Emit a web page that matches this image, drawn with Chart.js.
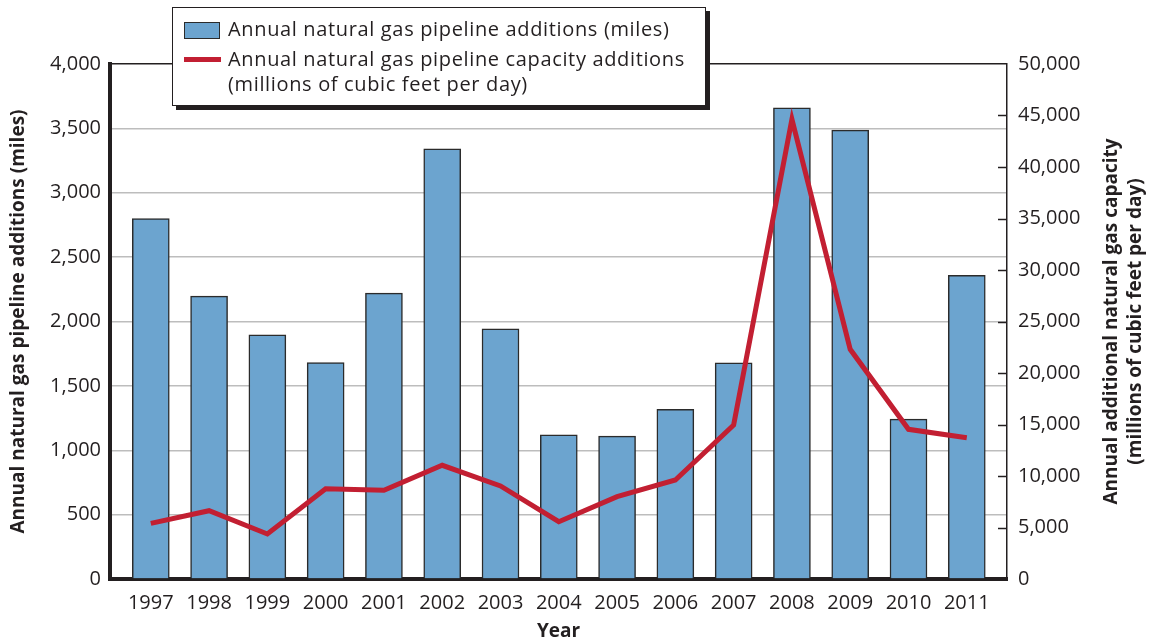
<!DOCTYPE html>
<html>
<head>
<meta charset="utf-8">
<script src="https://cdn.jsdelivr.net/npm/chart.js@4.4.1/dist/chart.umd.min.js"></script>
<style>
  body { margin: 0; background: #fff; }
  #wrap { position: relative; width: 1151px; height: 644px; font-family: "Open Sans", sans-serif; color: #231f20; }
  #legend {
    position: absolute; left: 172px; top: 7px; width: 532px; height: 97px;
    border: 1.5px solid #231f20; box-shadow: 4px 4px 0 #231f20; background: #fff;
    font-size: 20px; letter-spacing: 0.65px;
  }
  #legend .txt { position: absolute; left: 55px; line-height: 24px; white-space: nowrap; }
  #legend .box { position: absolute; left: 11px; top: 14px; width: 34px; height: 15px; background: #6ca4cf; border: 1.5px solid #2b2b2b; }
  #legend .ln { position: absolute; left: 11px; top: 49px; width: 37px; height: 5px; background: #c21f32; }
</style>
</head>
<body>
<div id="wrap">
  <canvas id="chart" width="1151" height="644"></canvas>
  <div id="legend">
    <div class="box"></div>
    <div class="txt" style="top:9px">Annual natural gas pipeline additions (miles)</div>
    <div class="ln"></div>
    <div class="txt" style="top:39px">Annual natural gas pipeline capacity additions</div>
    <div class="txt" style="top:64px">(millions of cubic feet per day)</div>
  </div>
</div>
<script>
const years = [1997, 1998, 1999, 2000, 2001, 2002, 2003, 2004, 2005, 2006, 2007, 2008, 2009, 2010, 2011];
const pipelineMiles = [2800, 2197, 1897, 1680, 2220, 3341, 1943, 1120, 1110, 1318, 1679, 3659, 3486, 1242, 2358];
const capacityAdded = [5400, 6630, 4370, 8770, 8610, 11040, 9030, 5560, 7990, 9610, 14950, 44630, 22300, 14530, 13720];

const leftTitle = 'Annual natural gas pipeline additions (miles)';
const rightTitle = ['Annual additional natural gas capacity', '(millions of cubic feet per day)'];
const xTitle = 'Year';

const ink = '#231f20';
const font = 'Open Sans';

Chart.defaults.font.family = font;
Chart.defaults.color = ink;

// axis titles and the inward ticks on the right axis
const decor = {
  id: 'decor',
  afterDatasetsDraw(chart) {
    const ctx = chart.ctx;
    const y2 = chart.scales.y2;
    const right = chart.chartArea.right;
    ctx.save();
    ctx.strokeStyle = ink;
    ctx.lineWidth = 1.5;
    y2.ticks.forEach(t => {
      if (t.value <= 0 || t.value >= 50000) return;
      const py = Math.round(y2.getPixelForValue(t.value)) + 0.5;
      ctx.beginPath();
      ctx.moveTo(right - 9, py);
      ctx.lineTo(right, py);
      ctx.stroke();
    });
    ctx.restore();
  },
  afterDraw(chart) {
    const ctx = chart.ctx;
    const area = chart.chartArea;
    const midY = (area.top + area.bottom) / 2;
    ctx.save();
    ctx.fillStyle = ink;
    ctx.font = 'bold 19px "' + font + '"';
    ctx.textAlign = 'center';
    ctx.textBaseline = 'middle';

    ctx.save();
    ctx.translate(19, midY);
    ctx.rotate(-Math.PI / 2);
    ctx.fillText(leftTitle, 0, 0);
    ctx.restore();

    ctx.save();
    ctx.translate(1112, midY);
    ctx.rotate(-Math.PI / 2);
    ctx.fillText(rightTitle[0], 0, 0);
    ctx.fillText(rightTitle[1], 0, 24);
    ctx.restore();

    ctx.fillText(xTitle, (area.left + area.right) / 2, 632);
    ctx.restore();
  }
};

new Chart(document.getElementById('chart'), {
  data: {
    datasets: [{
      type: 'line',
      label: 'Annual natural gas pipeline capacity additions',
      data: years.map((yr, i) => ({ x: yr, y: capacityAdded[i] })),
      yAxisID: 'y2',
      borderColor: '#c21f32',
      borderWidth: 5,
      borderJoinStyle: 'miter',
      pointRadius: 0,
      tension: 0,
      order: 0
    }, {
      type: 'bar',
      label: 'Annual natural gas pipeline additions (miles)',
      data: years.map((yr, i) => ({ x: yr, y: pipelineMiles[i] })),
      yAxisID: 'y',
      backgroundColor: '#6ca4cf',
      borderColor: '#2b2b2b',
      borderWidth: 1.5,
      barThickness: 37,
      order: 1
    }]
  },
  options: {
    responsive: false,
    animation: false,
    layout: { padding: { top: 64, left: 0, right: 0, bottom: 0 } },
    plugins: {
      legend: { display: false },
      tooltip: { enabled: false }
    },
    scales: {
      x: {
        type: 'linear',
        offset: false,
        min: 1996.3,
        max: 2011.69,
        afterBuildTicks: s => { s.ticks = years.map(v => ({ value: v })); },
        afterFit: s => { s.height = 65; },
        grid: { display: false, drawTicks: false },
        border: { display: true, color: ink, width: 4 },
        ticks: {
          padding: 12,
          maxRotation: 0,
          autoSkip: false,
          font: { size: 20 },
          callback: v => String(v)
        }
      },
      y: {
        position: 'left',
        min: 0,
        max: 4000,
        afterFit: s => { s.width = 110; },
        grid: {
          drawTicks: false,
          lineWidth: 1.5,
          color: c => c.tick.value === 4000 ? ink : (c.tick.value === 0 ? 'rgba(0,0,0,0)' : '#bdbdbd')
        },
        border: { display: true, color: ink, width: 4 },
        ticks: {
          stepSize: 500,
          padding: 9,
          font: { size: 20 },
          callback: v => v.toLocaleString('en-US')
        }
      },
      y2: {
        position: 'right',
        min: 0,
        max: 50000,
        afterFit: s => { s.width = 144; },
        grid: { drawOnChartArea: false, drawTicks: false },
        border: { display: true, color: ink, width: 1.5 },
        ticks: {
          stepSize: 5000,
          padding: 11,
          font: { size: 20 },
          callback: v => v.toLocaleString('en-US')
        }
      }
    }
  },
  plugins: [decor]
});
</script>
</body>
</html>
